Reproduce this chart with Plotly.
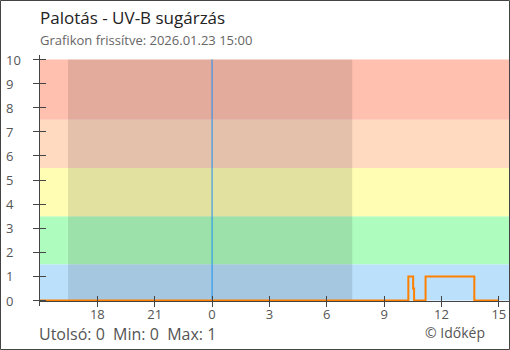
import plotly.graph_objects as go

# ---- data ----
obs_times = ["2026-01-22 15:00", "2026-01-23 10:16", "2026-01-23 10:31",
             "2026-01-23 10:34", "2026-01-23 11:10", "2026-01-23 13:43",
             "2026-01-23 15:00"]
uv_values = [0, 1, 0.5, 0, 1, 0, 0]

x_start = "2026-01-22 15:00"
x_end = "2026-01-23 15:35"
tick_times = ["2026-01-22 18:00", "2026-01-22 21:00", "2026-01-23 00:00",
              "2026-01-23 03:00", "2026-01-23 06:00", "2026-01-23 09:00",
              "2026-01-23 12:00", "2026-01-23 15:00"]
tick_text = ["18", "21", "0", "3", "6", "9", "12", "15"]
y_ticks = list(range(0, 11))

band_edges = [0, 1.5, 3.5, 5.5, 7.5, 10]
band_colors = ["#BAE0FB", "#AFFDBE", "#FFFDB4", "#FFD9C0", "#FFC0B0"]
sunset = "2026-01-22 16:28"
sunrise = "2026-01-23 07:20"
midnight = "2026-01-23 00:00"

title = "Palotás - UV-B sugárzás"
subtitle = "Grafikon frissítve: 2026.01.23 15:00"
footer = "Utolsó: 0\u00a0\u00a0Min: 0\u00a0\u00a0Max: 1"
credit = "© Időkép"

# ---- layout geometry ----
W, H = 510, 350
M_T, M_B = 55, 44
PH = H - M_T - M_B
px0 = 40
y_lo = -5.5 / 24.1
y_hi = 10 + 4.5 / 24.1


def py(p):  # pixel y -> paper y
    return (H - M_B - p) / PH


def pxp(p):  # pixel x -> paper x
    return p / W


FONT = "Open Sans"
AX = "#444444"

fig = go.Figure()
fig.add_trace(go.Scatter(x=obs_times, y=uv_values, mode="lines",
                         line=dict(color="#FF8000", width=2, shape="hv"),
                         hoverinfo="skip", showlegend=False))
# invisible trace to host the overlay axes (inside halves of crossing ticks)
fig.add_trace(go.Scatter(x=obs_times, y=uv_values, xaxis="x2", yaxis="y2",
                         mode="lines", line=dict(width=0), opacity=0,
                         hoverinfo="skip", showlegend=False))

shapes = []
for i, c in enumerate(band_colors):
    shapes.append(dict(type="rect", xref="x", yref="y", x0=x_start, x1=x_end,
                       y0=band_edges[i], y1=band_edges[i + 1],
                       fillcolor=c, line=dict(width=0), layer="below"))
shapes.append(dict(type="rect", xref="x", yref="y", x0=sunset, x1=sunrise,
                   y0=band_edges[0], y1=band_edges[-1],
                   fillcolor="rgba(0,0,0,0.11)", line=dict(width=0), layer="below"))
shapes.append(dict(type="line", xref="x", yref="y", x0=midnight, x1=midnight,
                   y0=band_edges[0], y1=band_edges[-1],
                   line=dict(color="#1E90F0", width=1), layer="below"))
# outer frame
shapes.append(dict(type="rect", xref="paper", yref="paper",
                   x0=pxp(0.5), x1=pxp(509.5), y0=py(349.5), y1=py(0.5),
                   line=dict(color="#444444", width=1), fillcolor="rgba(0,0,0,0)"))

xpos = py(300.5)
tickfont = dict(family=FONT, size=13, color="#555555")

annotations = [
    dict(text=title, xref="paper", yref="paper", x=pxp(38), y=py(18),
         xanchor="left", yanchor="middle", showarrow=False,
         font=dict(family=FONT, size=17, color="#222222")),
    dict(text=subtitle, xref="paper", yref="paper", x=pxp(38), y=py(40),
         xanchor="left", yanchor="middle", showarrow=False,
         font=dict(family=FONT, size=13, color="#666666")),
    dict(text=footer, xref="paper", yref="paper", x=pxp(38), y=py(334),
         xanchor="left", yanchor="middle", showarrow=False, borderpad=0,
         font=dict(family=FONT, size=16, color="#555555")),
    dict(text=credit, xref="paper", yref="paper", x=pxp(424), y=py(332),
         xanchor="left", yanchor="middle", showarrow=False, borderpad=0,
         font=dict(family=FONT, size=14, color="#555555")),
]
# left-aligned y tick labels
for v in y_ticks:
    annotations.append(dict(text=str(v), xref="paper", yref="y", x=pxp(4), y=v,
                            xanchor="left", yanchor="middle", showarrow=False,
                            font=tickfont))

fig.update_layout(
    width=W, height=H,
    margin=dict(l=0, r=0, t=M_T, b=M_B),
    paper_bgcolor="white", plot_bgcolor="white",
    showlegend=False,
    shapes=shapes,
    annotations=annotations,
    xaxis=dict(domain=[px0 / W, 1], range=[x_start, x_end], type="date",
               anchor="free", position=xpos,
               tickmode="array", tickvals=tick_times, ticktext=tick_text,
               ticks="outside", ticklen=5, tickcolor=AX, tickwidth=1,
               ticklabelstandoff=-3,
               showline=True, linecolor=AX, linewidth=1,
               showgrid=False, zeroline=False, tickfont=tickfont),
    xaxis2=dict(domain=[px0 / W, 1], range=[x_start, x_end], type="date",
                overlaying="x", anchor="free", position=xpos,
                tickmode="array", tickvals=tick_times,
                ticks="inside", ticklen=5, tickcolor=AX, tickwidth=1,
                showticklabels=False, showline=False, showgrid=False, zeroline=False),
    yaxis=dict(range=[y_lo, y_hi], anchor="x", tickmode="array", tickvals=y_ticks,
               ticks="outside", ticklen=6, tickcolor=AX, tickwidth=1,
               showticklabels=False,
               showline=True, linecolor=AX, linewidth=1,
               showgrid=False, zeroline=False),
    yaxis2=dict(range=[y_lo, y_hi], overlaying="y", anchor="x2", tickmode="array",
                tickvals=y_ticks, ticks="inside", ticklen=6, tickcolor=AX, tickwidth=1,
                showticklabels=False, showline=False, showgrid=False, zeroline=False),
)

fig.write_html("out.html")
